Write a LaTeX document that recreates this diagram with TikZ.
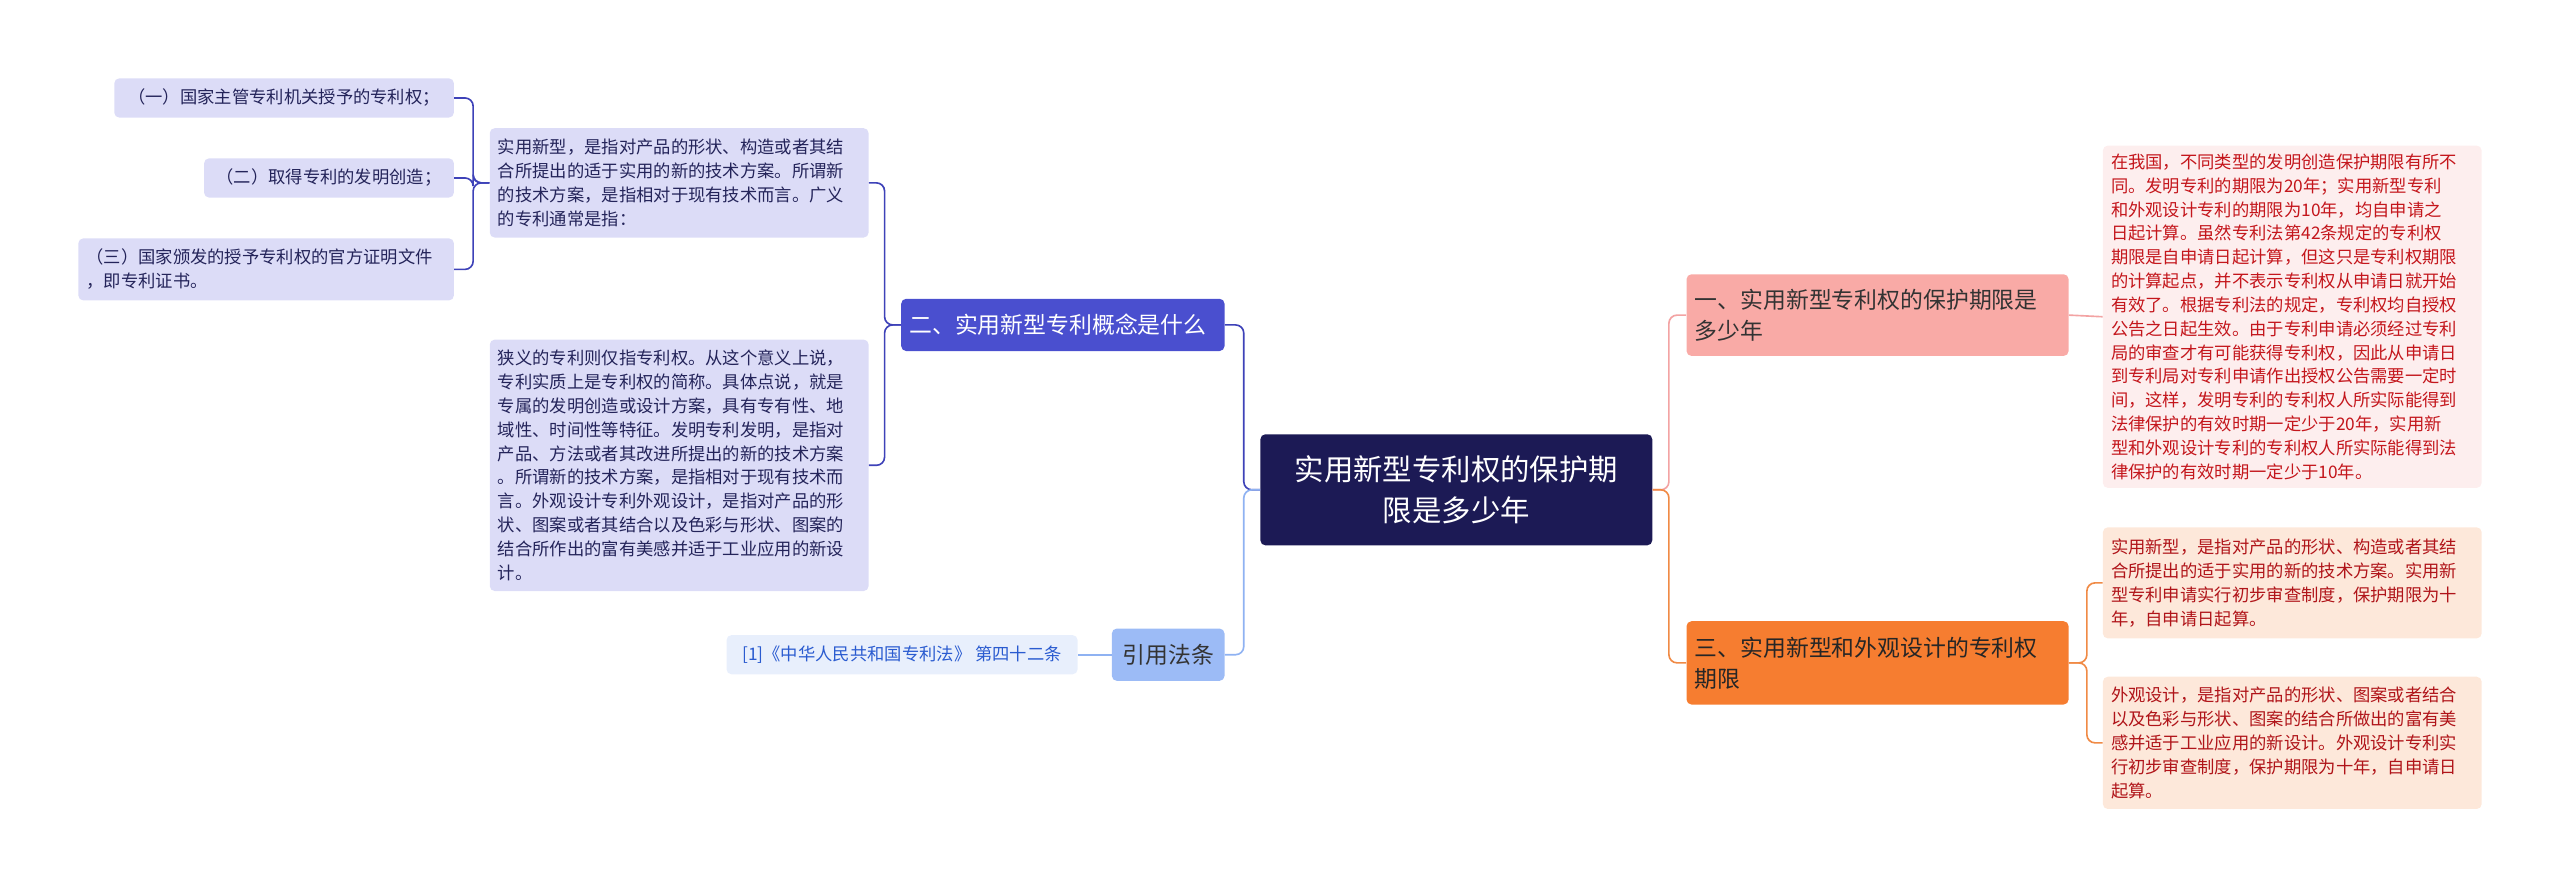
\documentclass[tikz,border=0pt]{standalone}
\usepackage{fontspec}
\setmainfont{Noto Sans CJK SC}
\usetikzlibrary{positioning}
\definecolor{rootfill}{HTML}{1C1A55}
\definecolor{redmain}{HTML}{F9AAA6}
\definecolor{redleaf}{HTML}{FDEEEE}
\definecolor{redtext}{HTML}{C4161C}
\definecolor{redline}{HTML}{F3A3A3}
\definecolor{orgmain}{HTML}{F67D30}
\definecolor{orgleaf}{HTML}{FDE8DA}
\definecolor{orgline}{HTML}{F08A45}
\definecolor{bluemain}{HTML}{4A4FCF}
\definecolor{blueleaf}{HTML}{DCDCF7}
\definecolor{blueline}{HTML}{3E42B8}
\definecolor{bluetext}{HTML}{24245A}
\definecolor{skymain}{HTML}{9CBBF6}
\definecolor{skyleaf}{HTML}{E8EFFC}
\definecolor{skytext}{HTML}{2A5BD0}
\definecolor{skyline}{HTML}{8FB2F2}
\tikzset{
  box/.style={rounded corners=3pt, inner sep=5pt, align=left},
  leaf/.style={box, font=\fontsize{10.6}{14.6}\selectfont},
  topic/.style={box, font=\fontsize{14}{19}\selectfont},
  link/.style={line width=1pt, rounded corners=5pt}
}
\begin{document}
\begin{tikzpicture}[x=1pt,y=-1pt]
\useasboundingbox (0,0) rectangle (1568,544);

% root
\node[box, fill=rootfill, text=white, minimum width=240, minimum height=68, align=center,
  font=\fontsize{18}{25}\selectfont] (root) at (892,300) {实用新型专利权的保护期\\限是多少年};

% right side
\node[topic, fill=redmain, text=black!80, minimum width=234, minimum height=50, text width=224] (r1) at (1150,193)
  {一、实用新型专利权的保护期限是\\多少年};
\node[leaf, fill=redleaf, text=redtext, minimum width=232, minimum height=208, text width=222] (r1a) at (1404,194)
  {在我国，不同类型的发明创造保护期限有所不\\同。发明专利的期限为20年；实用新型专利\\和外观设计专利的期限为10年，均自申请之\\日起计算。虽然专利法第42条规定的专利权\\期限是自申请日起计算，但这只是专利权期限\\的计算起点，并不表示专利权从申请日就开始\\有效了。根据专利法的规定，专利权均自授权\\公告之日起生效。由于专利申请必须经过专利\\局的审查才有可能获得专利权，因此从申请日\\到专利局对专利申请作出授权公告需要一定时\\间，这样，发明专利的专利权人所实际能得到\\法律保护的有效时期一定少于20年，实用新\\型和外观设计专利的专利权人所实际能得到法\\律保护的有效时期一定少于10年。};

\node[topic, fill=orgmain, text=black!85, minimum width=234, minimum height=51, text width=224] (r2) at (1150,406)
  {三、实用新型和外观设计的专利权\\期限};
\node[leaf, fill=orgleaf, text=redtext!90!black, minimum width=232, minimum height=68, text width=222] (r2a) at (1404,357)
  {实用新型，是指对产品的形状、构造或者其结\\合所提出的适于实用的新的技术方案。实用新\\型专利申请实行初步审查制度，保护期限为十\\年，自申请日起算。};
\node[leaf, fill=orgleaf, text=redtext!90!black, minimum width=232, minimum height=81, text width=222] (r2b) at (1404,455)
  {外观设计，是指对产品的形状、图案或者结合\\以及色彩与形状、图案的结合所做出的富有美\\感并适于工业应用的新设计。外观设计专利实\\行初步审查制度，保护期限为十年，自申请日\\起算。};

% left side
\node[topic, fill=bluemain, text=white, minimum width=198, minimum height=32, text width=188] (l1) at (651,199)
  {二、实用新型专利概念是什么};
\node[leaf, fill=blueleaf, text=bluetext, minimum width=232, minimum height=67, text width=222] (l1a) at (416,112)
  {实用新型，是指对产品的形状、构造或者其结\\合所提出的适于实用的新的技术方案。所谓新\\的技术方案，是指相对于现有技术而言。广义\\的专利通常是指：};
\node[leaf, fill=blueleaf, text=bluetext, minimum width=232, minimum height=154, text width=222] (l1b) at (416,285)
  {狭义的专利则仅指专利权。从这个意义上说，\\专利实质上是专利权的简称。具体点说，就是\\专属的发明创造或设计方案，具有专有性、地\\域性、时间性等特征。发明专利发明，是指对\\产品、方法或者其改进所提出的新的技术方案\\。所谓新的技术方案，是指相对于现有技术而\\言。外观设计专利外观设计，是指对产品的形\\状、图案或者其结合以及色彩与形状、图案的\\结合所作出的富有美感并适于工业应用的新设\\计。};
\node[leaf, fill=blueleaf, text=bluetext, minimum width=208, minimum height=24] (l1a1) at (174,60)
  {（一）国家主管专利机关授予的专利权；};
\node[leaf, fill=blueleaf, text=bluetext, minimum width=153, minimum height=24] (l1a2) at (201.5,109)
  {（二）取得专利的发明创造；};
\node[leaf, fill=blueleaf, text=bluetext, minimum width=230, minimum height=38, text width=220] (l1a3) at (163,165)
  {（三）国家颁发的授予专利权的官方证明文件\\，即专利证书。};

\node[topic, fill=skymain, text=black!80, minimum width=69, minimum height=32] (l2) at (715.5,401) {引用法条};
\node[leaf, fill=skyleaf, text=skytext, minimum width=215, minimum height=24] (l2a) at (552.5,401)
  {[1]《中华人民共和国专利法》 第四十二条};

% connectors
\draw[link, redline] (root.east) -- ++(10,0) |- (r1.west);
\draw[link, orgline] (root.east) -- ++(10,0) |- (r2.west);
\draw[link, redline] (r1.east) -- (r1a.west);
\draw[link, orgline] (r2.east) -- ++(11,0) |- (r2a.west);
\draw[link, orgline] (r2.east) -- ++(11,0) |- (r2b.west);
\draw[link, blueline] (root.west) -- ++(-10,0) |- (l1.east);
\draw[link, skyline] (root.west) -- ++(-10,0) |- (l2.east);
\draw[link, blueline] (l1.west) -- ++(-10,0) |- (l1a.east);
\draw[link, blueline] (l1.west) -- ++(-10,0) |- (l1b.east);
\foreach \k in {l1a1,l1a2,l1a3}
  \draw[link, blueline] (l1a.west) -- ++(-10,0) |- (\k.east);
\draw[link, skyline] (l2.west) -- (l2a.east);
\end{tikzpicture}
\end{document}
